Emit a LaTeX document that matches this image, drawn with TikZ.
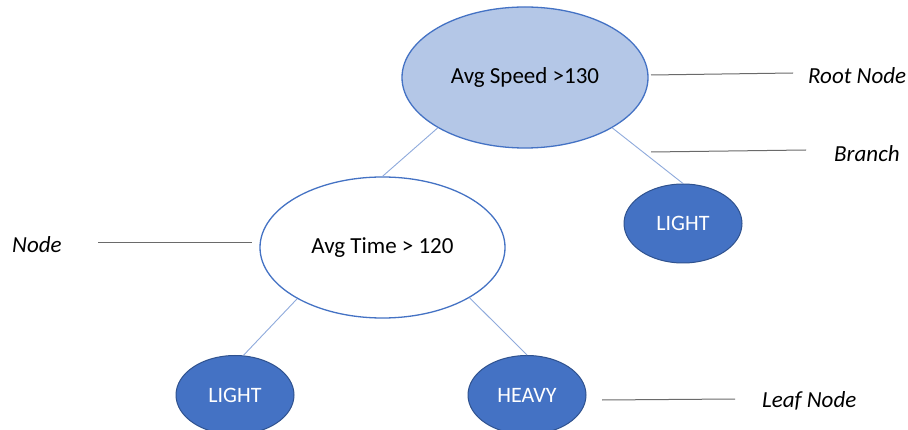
\documentclass[tikz,border=0pt]{standalone}
\usepackage{fontspec}
\setmainfont{Carlito}
\usetikzlibrary{shapes.geometric}
\definecolor{rootfill}{HTML}{B4C7E7}
\definecolor{accent}{HTML}{4472C4}
\definecolor{leafline}{HTML}{2F528F}
\definecolor{conn}{HTML}{8FAADC}
\definecolor{lblline}{HTML}{6A6A6A}
\tikzset{
  base/.style={ellipse, inner sep=0pt, font=\fontsize{23}{27}\selectfont},
  rootbox/.style={base, draw=accent, line width=1.3pt, fill=rootfill, minimum width=246pt, minimum height=141pt},
  midbox/.style={base, draw=accent, line width=1.3pt, fill=white, minimum width=245pt, minimum height=141pt},
  leafbox/.style={base, font=\fontsize{22}{26}\selectfont, draw=leafline, line width=1pt, fill=accent, text=white, minimum width=118pt, minimum height=79pt},
  conn/.style={draw=conn, line width=0.9pt},
  lbl/.style={font=\fontsize{23}{27}\selectfont\itshape, anchor=west, inner sep=0pt},
  lblline/.style={draw=lblline, line width=1pt}
}
\begin{document}
\begin{tikzpicture}[x=1pt,y=-1pt]
\clip (0,0) rectangle (908,430);
\fill[white] (0,0) rectangle (908,430);
\node[rootbox] (root) at (525,77.5) {Avg Speed >130};
\node[midbox] (mid) at (382.5,247.5) {Avg Time > 120};
\node[leafbox] (leafr) at (683,223.5) {LIGHT};
\node[leafbox] (leafl) at (235,395) {LIGHT};
\node[leafbox] (leafh) at (527,395) {HEAVY};
\draw[conn] (root.210.8) -- (mid.north);
\draw[conn] (root.-30.1) -- (leafr.north);
\draw[conn] (mid.211) -- (leafl.78);
\draw[conn] (mid.-30.3) -- (leafh.north);
\node[lbl] (lroot) at (808,76) {Root Node};
\node[lbl] (lbranch) at (834,154) {Branch};
\node[lbl] (lnode) at (12,245) {Node};
\node[lbl] (lleaf) at (762,401) {Leaf Node};
\coordinate (a1) at (651,75);
\coordinate (a2) at (793,73);
\coordinate (b1) at (651,152);
\coordinate (b2) at (806,150);
\coordinate (c1) at (98,243);
\coordinate (c2) at (252,243);
\coordinate (d1) at (602,400);
\coordinate (d2) at (735,399);
\draw[lblline] (a1) -- (a2);
\draw[lblline] (b1) -- (b2);
\draw[lblline] (c1) -- (c2);
\draw[lblline] (d1) -- (d2);
\end{tikzpicture}
\end{document}
